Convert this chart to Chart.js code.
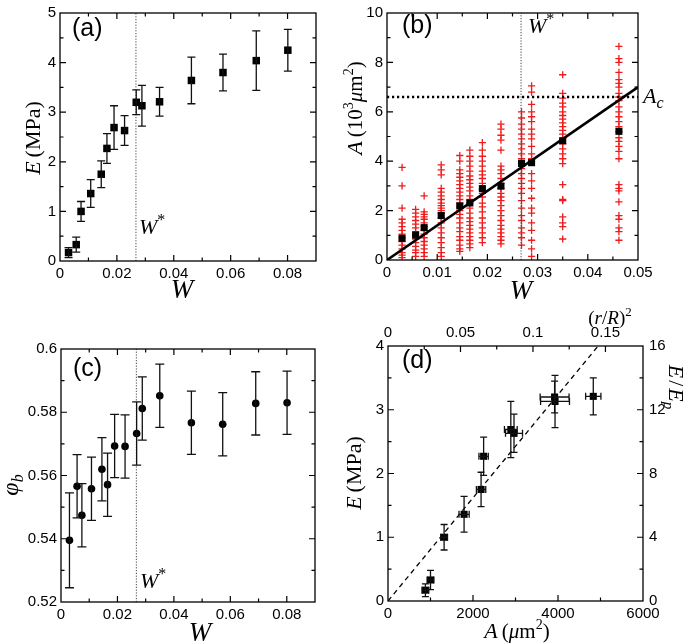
<!DOCTYPE html>
<html>
<head>
<meta charset="utf-8">
<script src="https://cdn.jsdelivr.net/npm/chart.js@4.4.1/dist/chart.umd.min.js"></script>
<style>
  body { margin: 0; background: #fff; }
  #wrap { position: relative; width: 685px; height: 644px; background: #fff; overflow: hidden; }
  canvas { position: absolute; }
</style>
</head>
<body>
<div id="wrap">
  <canvas id="pa" width="340" height="300" style="left:0;top:0"></canvas>
  <canvas id="pb" width="345" height="300" style="left:340px;top:0"></canvas>
  <canvas id="pc" width="340" height="344" style="left:0;top:300px"></canvas>
  <canvas id="pd" width="345" height="344" style="left:340px;top:300px"></canvas>
</div>
<script>
// ---- data ----
const W = [0.003, 0.0057, 0.0074, 0.0108, 0.0145, 0.0165, 0.019, 0.0227, 0.0268, 0.0288, 0.035, 0.0462, 0.0573, 0.069, 0.0801];
const E = [0.17, 0.33, 1.0, 1.36, 1.75, 2.27, 2.69, 2.63, 3.2, 3.13, 3.21, 3.64, 3.8, 4.04, 4.25];
const Eerr = [0.1, 0.15, 0.2, 0.28, 0.27, 0.3, 0.44, 0.3, 0.25, 0.41, 0.29, 0.47, 0.37, 0.6, 0.42];
const phiB = [0.5395, 0.5566, 0.5474, 0.5558, 0.562, 0.5571, 0.5693, 0.5692, 0.5733, 0.5812, 0.5852, 0.5767, 0.5762, 0.5828, 0.583];
const phiErr = [0.015, 0.01, 0.01, 0.01, 0.01, 0.01, 0.01, 0.01, 0.01, 0.01, 0.01, 0.01, 0.01, 0.01, 0.01];

// (b) mean contact area per W (10^3 um^2) and the single runs
const Amean = [0.88, 1.01, 1.31, 1.8, 2.19, 2.31, 2.89, 2.99, 3.91, 3.94, 4.83, 5.21];
const Aruns = [
  [3.75, 3.0, 2.1, 1.65, 1.5, 1.35, 1.2, 1.05, 0.9, 0.75, 0.6, 0.45, 0.3, 0.2, 0.1],
  [2.05, 1.9, 1.75, 1.6, 1.45, 1.3, 1.15, 1.0, 0.85, 0.7, 0.55, 0.4, 0.3, 0.15],
  [2.6, 1.95, 1.85, 1.75, 1.65, 1.5, 1.35, 1.2, 1.05, 0.9, 0.75, 0.6, 0.45, 0.3, 0.15],
  [3.85, 3.65, 3.45, 2.9, 2.75, 2.6, 2.45, 2.3, 2.2, 2.1, 2.0, 1.9, 1.7, 1.5, 1.3, 1.1, 0.9, 0.7, 0.5, 0.3, 0.15],
  [4.23, 4.0, 3.65, 3.5, 3.35, 3.2, 3.05, 2.9, 2.75, 2.6, 2.45, 2.3, 2.15, 2.0, 1.85, 1.7, 1.5, 1.3, 1.15, 0.95, 0.8, 0.6, 0.45, 0.35],
  [4.45, 4.2, 4.0, 3.8, 3.6, 3.4, 3.25, 3.1, 2.95, 2.8, 2.6, 2.45, 2.3, 2.1, 1.9, 1.7, 1.55, 1.4, 1.25, 1.1, 0.95, 0.8, 0.65, 0.5],
  [4.75, 4.45, 4.2, 4.0, 3.8, 3.6, 3.45, 3.3, 3.1, 2.85, 2.7, 2.55, 2.3, 2.15, 1.95, 1.7, 1.5, 1.3, 1.1, 0.9, 0.7],
  [5.5, 5.3, 5.05, 4.85, 4.45, 3.8, 3.65, 3.5, 3.3, 3.1, 2.9, 2.7, 2.55, 2.4, 2.2, 2.0, 1.8, 1.6, 1.4, 1.25, 1.1, 0.95, 0.8, 0.65],
  [6.0, 5.75, 5.5, 5.3, 5.1, 4.9, 4.7, 4.5, 4.3, 4.1, 3.9, 3.7, 3.5, 3.3, 3.1, 2.9, 2.7, 2.4, 2.1, 1.8, 1.6, 1.3, 1.1, 0.9, 0.6],
  [7.05, 6.8, 6.3, 6.0, 5.8, 5.6, 5.3, 5.1, 4.9, 4.6, 4.3, 4.1, 3.5, 3.2, 2.9, 2.5, 2.1, 1.9, 1.5, 1.2, 0.8, 0.45, 0.15],
  [7.5, 6.75, 6.55, 6.35, 6.2, 6.0, 5.85, 5.7, 5.55, 5.4, 5.25, 5.1, 4.9, 4.7, 4.5, 4.3, 4.1, 3.9, 3.05, 2.45, 2.4, 1.75, 1.5, 1.35, 0.85],
  [8.65, 8.15, 8.0, 7.6, 7.3, 7.15, 7.0, 6.75, 6.6, 6.45, 6.2, 6.0, 5.8, 5.6, 5.4, 5.2, 4.95, 4.8, 4.6, 4.4, 4.1, 3.05, 2.9, 2.8, 2.35, 1.8, 1.65, 1.3, 1.15, 0.8]
];
const wStar = 0.0267;
const aC = 6.6;
const fitW = [0, 0.05];
const fitA = [0, 7.0];

// (d) modulus vs contact area
const Ad = [880, 1000, 1320, 1790, 2190, 2250, 2890, 2965, 3920, 3930, 4830];
const AdErr = [80, 80, 80, 120, 110, 110, 150, 200, 340, 340, 180];
const Ed = E.slice(0, 11);
const EdErr = Eerr.slice(0, 11);
const fitAd = [0, 4944];
const fitEd = [0, 4];

// ---- helpers ----
const SANS = '"Liberation Sans", Arial, sans-serif';
const SERIF = '"Liberation Serif", "Times New Roman", serif';
const it = s => `italic ${s}px ${SERIF}`;
const rm = s => `${s}px ${SERIF}`;
const num = d => v => String(+v.toFixed(d));

Chart.defaults.font.family = SANS;
Chart.defaults.color = '#000';

function pts(xs, ys) { return xs.map((x, i) => ({ x: x, y: ys[i] })); }

function axis(min, max, step, position, fmt, fit, extra) {
  return Object.assign({
    type: 'linear', position: position, min: min, max: max,
    grid: { display: false, drawTicks: false },
    border: { display: false },
    ticks: { stepSize: step, includeBounds: false, callback: fmt, color: '#000', padding: 4, font: { size: 15, family: SANS } },
    afterFit: fit
  }, extra || {});
}

// per-panel tick marks and text, keyed by canvas id
const panelCfg = {};

function drawRich(ctx, parts, x, y, rot, align) {
  ctx.save();
  ctx.translate(x, y);
  ctx.rotate(rot || 0);
  ctx.textBaseline = 'alphabetic';
  ctx.fillStyle = '#000';
  const widths = parts.map(p => { ctx.font = p.f; return ctx.measureText(p.t).width + (p.gap || 0); });
  const total = widths.reduce((a, b) => a + b, 0);
  let cx = align === 'left' ? 0 : -total / 2;
  parts.forEach((p, i) => { ctx.font = p.f; ctx.fillText(p.t, cx, p.dy || 0); cx += widths[i]; });
  ctx.restore();
}

const errPlugin = {
  id: 'errbars',
  afterDatasetsDraw(chart) {
    const ctx = chart.ctx;
    chart.data.datasets.forEach(ds => {
      if (!ds.yErr && !ds.xErr) return;
      const xs = chart.scales[ds.xAxisID || 'x'], ys = chart.scales[ds.yAxisID || 'y'];
      const cap = ds.cap || 4;
      ctx.save();
      ctx.strokeStyle = '#111';
      ctx.lineWidth = 1.3;
      ctx.beginPath();
      ds.data.forEach((p, j) => {
        const px = xs.getPixelForValue(p.x), py = ys.getPixelForValue(p.y);
        if (ds.yErr) {
          const t = ys.getPixelForValue(p.y + ds.yErr[j]), b = ys.getPixelForValue(p.y - ds.yErr[j]);
          ctx.moveTo(px, t); ctx.lineTo(px, b);
          ctx.moveTo(px - cap, t); ctx.lineTo(px + cap, t);
          ctx.moveTo(px - cap, b); ctx.lineTo(px + cap, b);
        }
        if (ds.xErr) {
          const l = xs.getPixelForValue(p.x - ds.xErr[j]), r = xs.getPixelForValue(p.x + ds.xErr[j]);
          ctx.moveTo(l, py); ctx.lineTo(r, py);
          ctx.moveTo(l, py - cap); ctx.lineTo(l, py + cap);
          ctx.moveTo(r, py - cap); ctx.lineTo(r, py + cap);
        }
      });
      ctx.stroke();
      ctx.restore();
    });
  }
};

const framePlugin = {
  id: 'frame',
  afterDraw(chart) {
    const cfg = panelCfg[chart.canvas.id];
    if (!cfg) return;
    const ctx = chart.ctx, a = chart.chartArea;
    ctx.save();
    ctx.strokeStyle = '#000';
    ctx.lineWidth = 1.2;
    ctx.beginPath();
    cfg.ticks.forEach(t => {
      const sc = chart.scales[t.scale];
      const n = Math.round((sc.max - sc.min) / t.minor);
      for (let i = 1; i < n; i++) {
        const v = sc.min + i * t.minor;
        const major = Math.abs(v / t.major - Math.round(v / t.major)) < 1e-6;
        const len = major ? 6 : 3.5;
        const p = sc.getPixelForValue(v);
        t.sides.forEach(s => {
          if (s === 'bottom') { ctx.moveTo(p, a.bottom); ctx.lineTo(p, a.bottom - len); }
          if (s === 'top') { ctx.moveTo(p, a.top); ctx.lineTo(p, a.top + len); }
          if (s === 'left') { ctx.moveTo(a.left, p); ctx.lineTo(a.left + len, p); }
          if (s === 'right') { ctx.moveTo(a.right, p); ctx.lineTo(a.right - len, p); }
        });
      }
    });
    ctx.stroke();
    ctx.lineWidth = 1.3;
    ctx.strokeRect(a.left, a.top, a.right - a.left, a.bottom - a.top);
    ctx.restore();
    cfg.texts.forEach(tx => drawRich(ctx, tx.parts, tx.x, tx.y, tx.rot, tx.align));
  }
};
Chart.register(errPlugin, framePlugin);

const baseOpts = (pad) => ({
  responsive: false, animation: false, devicePixelRatio: 1,
  layout: { padding: pad },
  plugins: { legend: { display: false }, tooltip: { enabled: false } }
});

const sq = { pointStyle: 'rect', pointRadius: 5.3, backgroundColor: '#000', borderColor: '#000', borderWidth: 0, showLine: false };
const wStarLine = (ymin, ymax) => ({
  data: pts([wStar, wStar], [ymin, ymax]), showLine: true, pointRadius: 0,
  borderColor: '#444', borderWidth: 1, borderDash: [1.2, 1.6]
});

const ROT_UP = -Math.PI / 2, ROT_DOWN = Math.PI / 2;
const panelLabel = (s, x, y) => ({ parts: [{ t: s, f: `25px ${SANS}` }], x: x, y: y, align: 'left' });
const wStarText = (x, y) => ({ parts: [{ t: 'W', f: it(22) }, { t: '*', f: rm(16), dy: -9 }], x: x, y: y, align: 'left' });
const wTitle = (x, y) => ({ parts: [{ t: 'W', f: it(27) }], x: x, y: y });
const eTitle = (x, y) => ({ parts: [{ t: 'E', f: it(22), gap: 4 }, { t: '(MPa)', f: rm(22) }], x: x, y: y, rot: ROT_UP });

// ---- (a) E vs W ----
panelCfg.pa = {
  ticks: [
    { scale: 'x', major: 0.02, minor: 0.01, sides: ['bottom', 'top'] },
    { scale: 'y', major: 1, minor: 0.5, sides: ['left', 'right'] }
  ],
  texts: [panelLabel('(a)', 72, 36), wStarText(139, 234), wTitle(182, 298), eTitle(40, 138)]
};
new Chart(document.getElementById('pa'), {
  type: 'scatter',
  data: { datasets: [
    Object.assign({ data: pts(W, E), yErr: Eerr, cap: 4 }, sq),
    wStarLine(0, 5)
  ] },
  options: Object.assign(baseOpts({ top: 7, right: 24, left: 0, bottom: 0 }), {
    scales: {
      x: axis(0, 0.09, 0.02, 'bottom', num(3), s => { s.height = 39; }),
      y: axis(0, 5, 1, 'left', num(1), s => { s.width = 60; })
    }
  })
});

// ---- (b) A vs W ----
const crossPts = Aruns.flatMap((col, i) => col.map(a => ({ x: W[i], y: a })));
panelCfg.pb = {
  ticks: [
    { scale: 'x', major: 0.01, minor: 0.005, sides: ['bottom', 'top'] },
    { scale: 'y', major: 2, minor: 1, sides: ['left', 'right'] }
  ],
  texts: [
    panelLabel('(b)', 62, 33),
    wStarText(188, 33),
    { parts: [{ t: 'A', f: it(22) }, { t: 'c', f: it(16), dy: 5 }], x: 303, y: 103, align: 'left' },
    wTitle(181, 299),
    { parts: [{ t: 'A', f: it(22), gap: 4 }, { t: '(10', f: rm(21) }, { t: '3', f: rm(14), dy: -9 }, { t: 'μ', f: it(21) },
              { t: 'm', f: rm(21) }, { t: '2', f: rm(14), dy: -9 }, { t: ')', f: rm(21) }], x: 22, y: 108, rot: ROT_UP }
  ]
};
new Chart(document.getElementById('pb'), {
  type: 'scatter',
  data: { datasets: [
    Object.assign({ data: pts(W.slice(0, 12), Amean) }, sq, { pointRadius: 5 }),
    { data: pts(fitW, fitA), showLine: true, pointRadius: 0, borderColor: '#000', borderWidth: 2.6 },
    { data: pts([0, 0.05], [aC, aC]), showLine: true, pointRadius: 0, borderColor: '#000', borderWidth: 2.6, borderDash: [2.2, 2.8] },
    wStarLine(0, 10),
    { data: crossPts, pointStyle: 'cross', pointRadius: 3.6, borderColor: '#ee1c1c', borderWidth: 1.3, backgroundColor: '#ee1c1c', showLine: false }
  ] },
  options: Object.assign(baseOpts({ top: 6, right: 47, left: 0, bottom: 0 }), {
    scales: {
      x: axis(0, 0.05, 0.01, 'bottom', num(3), s => { s.height = 40; }),
      y: axis(0, 10, 2, 'left', num(1), s => { s.width = 47; })
    }
  })
});

// ---- (c) phi_b vs W ----
panelCfg.pc = {
  ticks: [
    { scale: 'x', major: 0.02, minor: 0.01, sides: ['bottom', 'top'] },
    { scale: 'y', major: 0.02, minor: 0.01, sides: ['left', 'right'] }
  ],
  texts: [
    panelLabel('(c)', 73, 76), wStarText(140, 288), wTitle(200, 341),
    { parts: [{ t: 'φ', f: it(24) }, { t: 'b', f: it(16), dy: 5 }], x: 18, y: 185, rot: ROT_UP }
  ]
};
new Chart(document.getElementById('pc'), {
  type: 'scatter',
  data: { datasets: [
    { data: pts(W, phiB), yErr: phiErr, cap: 4.5, pointStyle: 'circle', pointRadius: 3.8, backgroundColor: '#000', borderWidth: 0, showLine: false },
    wStarLine(0.52, 0.6)
  ] },
  options: Object.assign(baseOpts({ top: 49, right: 25, left: 0, bottom: 0 }), {
    scales: {
      x: axis(0, 0.09, 0.02, 'bottom', num(3), s => { s.height = 42; }),
      y: axis(0.52, 0.6, 0.02, 'left', num(2), s => { s.width = 61; })
    }
  })
});

// ---- (d) E vs A ----
panelCfg.pd = {
  ticks: [
    { scale: 'x', major: 2000, minor: 1000, sides: ['bottom'] },
    { scale: 'x2', major: 0.05, minor: 0.025, sides: ['top'] },
    { scale: 'y', major: 1, minor: 0.5, sides: ['left'] },
    { scale: 'y2', major: 4, minor: 2, sides: ['right'] }
  ],
  texts: [
    panelLabel('(d)', 62, 68),
    { parts: [{ t: 'A', f: it(22), gap: 4 }, { t: '(', f: rm(21) }, { t: 'μ', f: it(21) }, { t: 'm', f: rm(21) },
              { t: '2', f: rm(14), dy: -9 }, { t: ')', f: rm(21) }], x: 177, y: 338 },
    eTitle(21, 173),
    { parts: [{ t: '(', f: rm(19) }, { t: 'r', f: it(19) }, { t: '/', f: rm(19) }, { t: 'R', f: it(19) }, { t: ')', f: rm(19) },
              { t: '2', f: rm(13), dy: -8 }], x: 270, y: 24 },
    { parts: [{ t: 'E', f: it(22), gap: 2 }, { t: '/', f: rm(22), gap: 2 }, { t: 'E', f: it(22) }, { t: 'p', f: it(15), dy: 5 }],
      x: 329, y: 87, rot: ROT_DOWN }
  ]
};
new Chart(document.getElementById('pd'), {
  type: 'scatter',
  data: { datasets: [
    Object.assign({ data: pts(Ad, Ed), yErr: EdErr, xErr: AdErr, cap: 3.5 }, sq, { pointRadius: 5 }),
    { data: pts(fitAd, fitEd), showLine: true, pointRadius: 0, borderColor: '#000', borderWidth: 1.3, borderDash: [5, 4] }
  ] },
  options: Object.assign(baseOpts({ top: 0, right: 0, left: 0, bottom: 0 }), {
    scales: {
      x: axis(0, 6000, 2000, 'bottom', v => String(v), s => { s.height = 43; }),
      x2: axis(0, 0.1759, 0.05, 'top', num(3), s => { s.height = 46; }, { grid: { display: false, drawTicks: false } }),
      y: axis(0, 4, 1, 'left', num(1), s => { s.width = 48; }),
      y2: axis(0, 16, 4, 'right', num(0), s => { s.width = 42; }, { ticks: { stepSize: 4, callback: num(0), color: '#000', padding: 6, font: { size: 15, family: SANS } } })
    }
  })
});
</script>
</body>
</html>
